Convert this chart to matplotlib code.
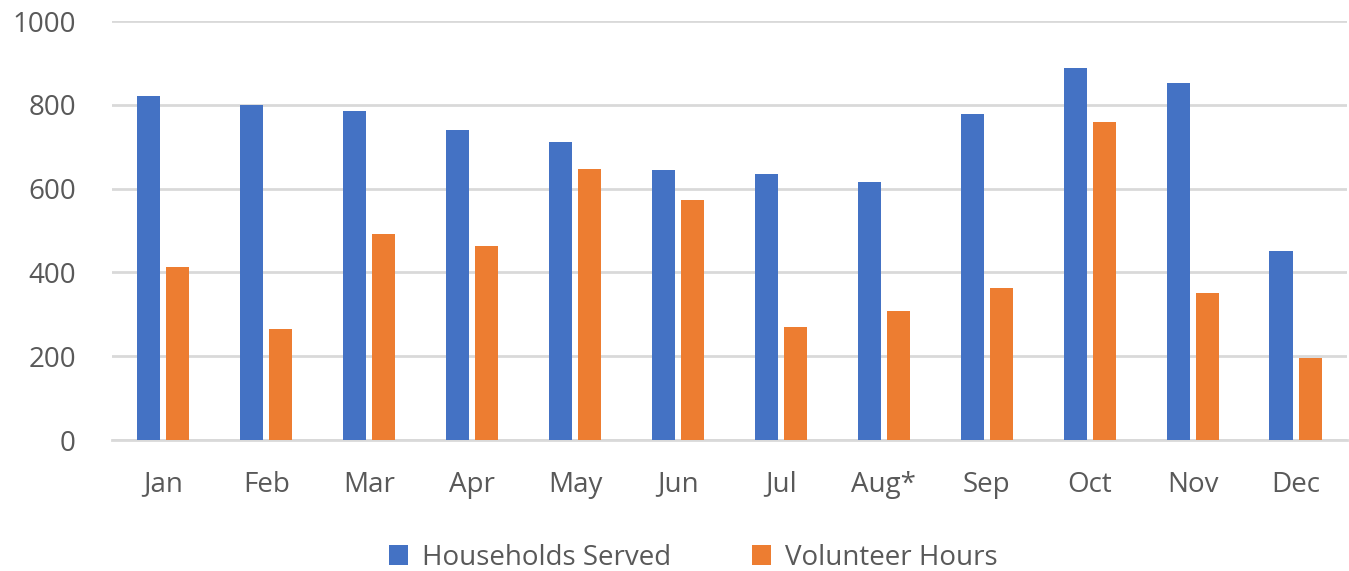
import matplotlib
matplotlib.use("Agg")
import matplotlib.pyplot as plt
import numpy as np

months = ["Jan", "Feb", "Mar", "Apr", "May", "Jun", "Jul", "Aug*", "Sep", "Oct", "Nov", "Dec"]
households = [820, 800, 786, 740, 711, 644, 636, 615, 779, 887, 851, 452]
volunteer = [412, 266, 492, 462, 648, 574, 270, 307, 363, 758, 352, 196]
yticks = [0, 200, 400, 600, 800, 1000]

plt.rcParams['font.family'] = ['Open Sans', 'DejaVu Sans']

fig = plt.figure(figsize=(13.49, 5.71), dpi=100)
ax = fig.add_axes([0.083, 0.2294, 0.9155, 0.7338])

x = np.arange(len(months))
w = 0.224
off = 0.141
ax.bar(x - off, households, w, color="#4472C4", label="Households Served", zorder=3)
ax.bar(x + off, volunteer, w, color="#ED7D31", label="Volunteer Hours", zorder=3)

ax.set_xlim(-0.5, len(months) - 0.5)
ax.set_ylim(0, 1000)
ax.set_yticks(yticks)
ax.set_xticks(x)
ax.set_xticklabels(months)
ax.yaxis.grid(True, color="#d9d9d9", linewidth=2, zorder=0)
for s in ["top", "right", "left"]:
    ax.spines[s].set_visible(False)
ax.spines["bottom"].set_color("#d9d9d9")
ax.spines["bottom"].set_linewidth(2)
ax.tick_params(axis="both", length=0, labelsize=20, colors="#595959")
ax.tick_params(axis="y", pad=26)
ax.tick_params(axis="x", pad=22)

leg = fig.legend(loc="lower center", bbox_to_anchor=(0.514, -0.045), ncol=2, frameon=False,
                 fontsize=20, handlelength=0.7, handleheight=0.7, columnspacing=2.9,
                 handletextpad=0.5)
for t in leg.get_texts():
    t.set_color("#595959")

fig.savefig("out.png", dpi=100)
